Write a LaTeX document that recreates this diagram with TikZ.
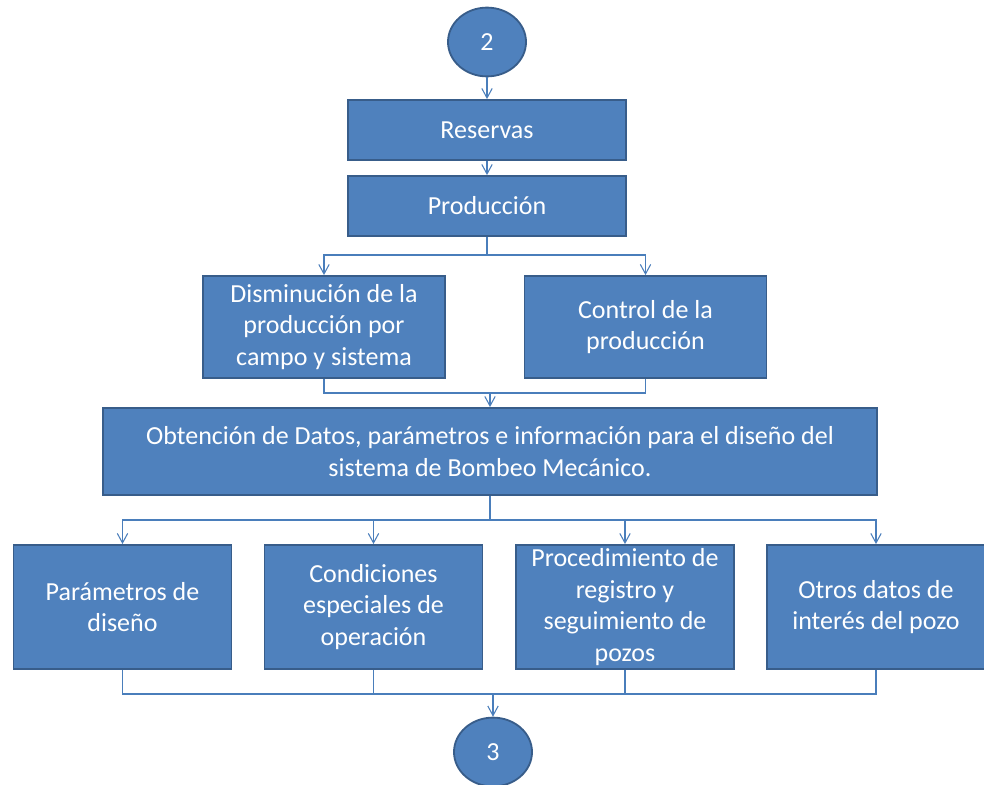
\documentclass[tikz,border=0pt]{standalone}
\usepackage{fontspec}
\setmainfont{Carlito}
\usepackage{tikz}
\usetikzlibrary{positioning, arrows.meta, shapes.geometric}
\definecolor{boxblue}{HTML}{4F81BD}
\definecolor{boxedge}{HTML}{385D8A}
\definecolor{linkblue}{HTML}{4A7EBB}
\tikzset{
	arrow/.style = {->, >={Straight Barb[length=2.4mm, width=2.6mm]}}
}

\begin{document}
\begin{tikzpicture}[
			x=0.025cm, y=-0.025cm,
			box/.style={draw=boxedge, line width=1.3pt, fill=boxblue, text=white, align=center, inner sep=2pt,
				font=\fontsize{18.5}{22.5}\selectfont},
			bluebox/.style={box, minimum width=6.95cm, minimum height=1.5cm},
			midbox/.style={box, minimum width=6.05cm, minimum height=2.55cm},
			widebox/.style={box, minimum width=19.35cm, minimum height=2.175cm},
			lowbox/.style={box, minimum width=5.45cm, minimum height=3.1cm},
			connector/.style={ellipse, draw=boxedge, line width=1.3pt, fill=boxblue, text=white,
				minimum width=1.95cm, minimum height=1.72cm, inner sep=0pt, font=\fontsize{18.5}{22.5}\selectfont},
			link/.style={draw=linkblue, line width=0.75pt}
			]
			\useasboundingbox (0,0) rectangle (984,784);
			
			% Verbinder und Boxen
			\node[connector] (C2) at (487,42) {2};
			\node[bluebox] (R) at (487,130) {Reservas};
			\node[bluebox] (P) at (487,206) {Producción};
			\node[midbox] (D) at (324,327) {Disminución de la\\producción por\\campo y sistema};
			\node[midbox] (K) at (645.5,327) {Control de la\\producción};
			\node[widebox] (O) at (490,451.5) {Obtención de Datos, parámetros e información para el diseño del\\sistema de Bombeo Mecánico.};
			\node[lowbox] (B1) at (122.5,607) {Parámetros de\\diseño};
			\node[lowbox] (B2) at (373.5,607) {Condiciones\\especiales de\\operación};
			\node[lowbox] (B3) at (625,607) {Procedimiento de\\registro y\\seguimiento de\\pozos};
			\node[lowbox] (B4) at (876,607) {Otros datos de\\interés del pozo};
			\node[connector] (C3) at (493,752) {3};
			
			% Hilfspunkte
			\coordinate (J1) at (487,255);
			\coordinate (J2) at (490,393);
			\coordinate (J3) at (490,520);
			\coordinate (J4) at (493,694);
			
			% Pfeile
			\draw[link, arrow] (C2) -- (R);
			\draw[link, arrow] (R) -- (P);
			\draw[link] (P.south) -- (J1);
			\draw[link, arrow] (J1) -| (D.north);
			\draw[link, arrow] (J1) -| (K.north);
			\draw[link] (D.south) |- (J2);
			\draw[link] (K.south) |- (J2);
			\draw[link, arrow] (J2) -- (O.north);
			\draw[link] (O.south) -- (J3);
			\foreach \b in {B1,B2,B3,B4}
				\draw[link, arrow] (J3) -| (\b.north);
			\foreach \b in {B1,B2,B3,B4}
				\draw[link] (\b.south) |- (J4);
			\draw[link, arrow] (J4) -- (C3.north);
		\end{tikzpicture}
\end{document}
